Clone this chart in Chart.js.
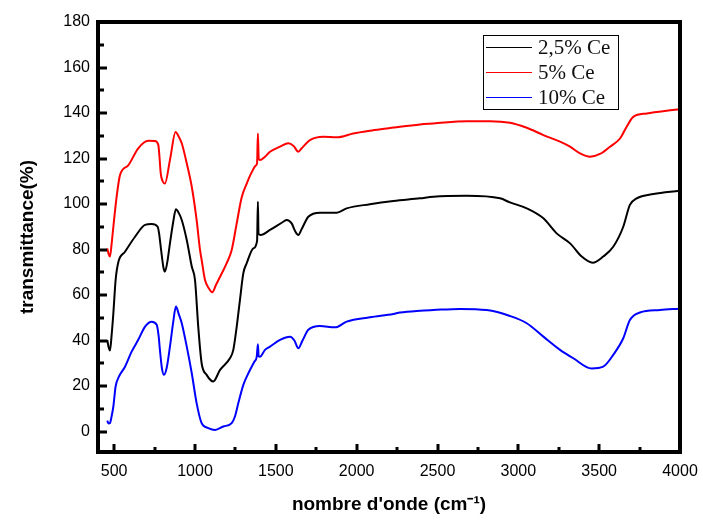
<!DOCTYPE html>
<html>
<head>
<meta charset="utf-8">
<script src="https://cdn.jsdelivr.net/npm/chart.js@4.4.1/dist/chart.umd.min.js"></script>
<style>
  html, body { margin: 0; padding: 0; background: #ffffff; }
  #wrap { width: 703px; height: 520px; }
</style>
</head>
<body>
<div id="wrap"><canvas id="c" width="703" height="520"></canvas></div>
<script>
// ---------- data ----------
const seriesLabels = ["2,5% Ce", "5% Ce", "10% Ce"];
const seriesColors = ["#000000", "#ff0000", "#0000ff"];

const xTicks = [500, 1000, 1500, 2000, 2500, 3000, 3500, 4000];
const xMinorTicks = [750, 1250, 1750, 2250, 2750, 3250, 3750];
const yTicks = [0, 20, 40, 60, 80, 100, 120, 140, 160, 180];
const yMinorTicks = [10, 30, 50, 70, 90, 110, 130, 150, 170];

// 2,5% Ce (black)
const wn25 = [457, 466, 474, 485, 495, 509, 526, 567, 629, 691, 732, 769, 778, 790, 805, 814, 830, 845, 865, 882, 900, 918, 949, 980, 1000, 1020, 1041, 1072, 1113, 1155, 1216, 1237, 1258, 1278, 1299, 1320, 1361, 1384, 1389, 1393, 1406, 1464, 1546, 1567, 1598, 1620, 1639, 1660, 1701, 1773, 1876, 1938, 2082, 2227, 2392, 2474, 2680, 2887, 2948, 3052, 3155, 3237, 3320, 3392, 3460, 3525, 3587, 3649, 3690, 3732, 3835, 3995];
const t25 = [40.3, 37, 35.6, 43, 52, 66.6, 74.5, 79, 85.6, 90.8, 91.2, 90, 87, 80, 72, 70.3, 75, 82.7, 92, 97.7, 96, 93, 84.2, 72.5, 66.6, 46.1, 30, 24.9, 22, 27.1, 32.2, 35.9, 46.1, 57.8, 69.6, 74, 80.5, 83.8, 101, 87, 86.4, 88.6, 92.2, 93, 91.5, 88, 86.4, 89, 94.4, 96.2, 96.2, 98.1, 99.9, 101.3, 102.5, 103.2, 103.6, 102.5, 100.7, 98.1, 93.7, 87.1, 82.7, 76.9, 74.2, 76.9, 81.2, 90, 99.6, 102.5, 104.4, 105.8];

// 5% Ce (red)
const wn5 = [457, 466, 474, 485, 495, 515, 536, 587, 649, 711, 752, 773, 780, 788, 800, 814, 845, 880, 900, 918, 949, 980, 1010, 1031, 1041, 1062, 1085, 1107, 1130, 1155, 1196, 1227, 1258, 1289, 1320, 1351, 1377, 1384, 1389, 1394, 1402, 1433, 1464, 1526, 1577, 1610, 1639, 1660, 1711, 1794, 1876, 1979, 2082, 2186, 2268, 2392, 2474, 2680, 2825, 2948, 3052, 3155, 3258, 3320, 3381, 3443, 3505, 3567, 3629, 3670, 3711, 3794, 3918, 3995];
const t5 = [80.5, 78, 76.9, 83, 90, 103, 112.7, 117, 124.5, 127.8, 127.7, 126, 121, 113.5, 110, 109, 119.3, 131.7, 129.5, 126.7, 117.9, 107.6, 93, 79.8, 75.5, 66.6, 63, 61.2, 64.5, 68, 74, 79.8, 91.5, 103, 109, 114, 117, 118, 131, 120, 119.3, 120.8, 123, 125.2, 126.7, 125.5, 123, 124.5, 128.1, 129.6, 129.3, 131, 132.2, 133.2, 134, 135, 135.4, 136.4, 136.4, 135.7, 133.5, 130.3, 127.4, 125.2, 122.3, 120.8, 122, 125.2, 128.8, 134, 138.3, 139.8, 141, 141.6];

// 10% Ce (blue)
const wn10 = [457, 466, 474, 485, 495, 509, 530, 567, 608, 649, 691, 732, 763, 775, 783, 795, 808, 825, 845, 865, 882, 900, 918, 949, 980, 1010, 1041, 1082, 1124, 1175, 1227, 1247, 1268, 1299, 1330, 1367, 1382, 1389, 1394, 1402, 1433, 1464, 1526, 1588, 1615, 1639, 1665, 1701, 1773, 1866, 1938, 2082, 2227, 2268, 2392, 2474, 2639, 2804, 2948, 3052, 3155, 3258, 3340, 3453, 3525, 3587, 3649, 3690, 3752, 3876, 3995];
const t10 = [4.8, 3.5, 3.7, 7, 11, 19.8, 24.2, 28.5, 35.1, 40.3, 46.1, 48.3, 46.9, 42, 35.9, 28, 24.9, 28, 37.3, 48, 54.9, 51.5, 47.6, 37.3, 25.6, 12.5, 3.7, 1.5, 0.7, 2.2, 3.7, 6.6, 12.5, 20.5, 25.6, 30.7, 32.9, 38.4, 33, 32.9, 35.9, 37.3, 40.3, 41.7, 40, 36.6, 40, 44.7, 46.4, 45.8, 48.3, 50.2, 51.7, 52.3, 53.1, 53.4, 53.9, 53.4, 50.8, 47.6, 41.7, 35.9, 32.2, 27.7, 28.5, 33.7, 41, 49, 52.3, 53.4, 54];

const xMin = 400, xMax = 4000, yMin = -9, yMax = 180;

function pts(xs, ys) { return xs.map((x, i) => ({ x: x, y: ys[i] })); }

// ---------- custom drawing: frame, inward ticks, legend ----------
const framePlugin = {
  id: 'frame',
  afterDatasetsDraw(chart) {
    const ctx = chart.ctx;
    const a = chart.chartArea;
    const xs = chart.scales.x, ys = chart.scales.y;
    ctx.save();
    ctx.strokeStyle = '#000';
    ctx.lineCap = 'butt';
    // inward ticks
    ctx.lineWidth = 3;
    ctx.beginPath();
    yTicks.forEach(v => { const p = Math.round(ys.getPixelForValue(v)); ctx.moveTo(a.left, p); ctx.lineTo(a.left + 9, p); });
    yMinorTicks.forEach(v => { const p = Math.round(ys.getPixelForValue(v)); ctx.moveTo(a.left, p); ctx.lineTo(a.left + 6, p); });
    xTicks.forEach(v => { const p = Math.round(xs.getPixelForValue(v)); ctx.moveTo(p, a.bottom); ctx.lineTo(p, a.bottom - 8); });
    xMinorTicks.forEach(v => { const p = Math.round(xs.getPixelForValue(v)); ctx.moveTo(p, a.bottom); ctx.lineTo(p, a.bottom - 5); });
    ctx.stroke();
    // frame
    ctx.lineWidth = 4;
    ctx.strokeRect(a.left, a.top, a.right - a.left, a.bottom - a.top);
    // legend
    const lx = a.right - 197, ly = a.top + 13, lw = 135, lh = 74;
    ctx.lineWidth = 1;
    ctx.fillStyle = '#fff';
    ctx.fillRect(lx, ly, lw, lh);
    ctx.strokeRect(lx + 0.5, ly + 0.5, lw, lh);
    ctx.font = '21px "Liberation Serif", "Times New Roman", serif';
    ctx.textBaseline = 'middle';
    ctx.textAlign = 'left';
    chart.data.datasets.forEach((ds, i) => {
      const yy = ly + 12 + i * 25;
      ctx.strokeStyle = ds.borderColor;
      ctx.beginPath();
      ctx.moveTo(lx + 3, Math.round(yy) + 0.5);
      ctx.lineTo(lx + 49, Math.round(yy) + 0.5);
      ctx.stroke();
      ctx.fillStyle = '#111';
      ctx.fillText(ds.label, lx + 55, yy + 1);
    });
    ctx.restore();
  }
};

const tickFont = { family: '"Liberation Sans", Arial, sans-serif', size: 16 };
const titleFont = { family: '"Liberation Sans", Arial, sans-serif', size: 19, weight: 'bold' };
const plain = v => String(v);

new Chart(document.getElementById('c'), {
  type: 'line',
  data: {
    datasets: [
      { label: seriesLabels[0], data: pts(wn25, t25), borderColor: seriesColors[0], borderWidth: 2 },
      { label: seriesLabels[1], data: pts(wn5, t5), borderColor: seriesColors[1], borderWidth: 2 },
      { label: seriesLabels[2], data: pts(wn10, t10), borderColor: seriesColors[2], borderWidth: 2 }
    ]
  },
  options: {
    responsive: false,
    devicePixelRatio: 1,
    animation: false,
    layout: { padding: { left: 0, top: 22, right: 23, bottom: 0 } },
    elements: { point: { radius: 0 }, line: { cubicInterpolationMode: 'monotone', fill: false } },
    plugins: { legend: { display: false }, tooltip: { enabled: false } },
    scales: {
      x: {
        type: 'linear', min: xMin, max: xMax,
        afterBuildTicks: s => { s.ticks = xTicks.map(v => ({ value: v })); },
        afterFit: s => { s.height = 68; },
        grid: { display: false, drawTicks: true, tickLength: 8 },
        border: { display: false },
        ticks: { font: tickFont, color: '#000', padding: 2, maxRotation: 0, autoSkip: false, callback: plain },
        title: { display: true, text: "nombre d'onde (cm\u207B\u00B9)", font: titleFont, color: '#000', padding: { top: 0, bottom: 4 } }
      },
      y: {
        type: 'linear', min: yMin, max: yMax,
        afterBuildTicks: s => { s.ticks = yTicks.map(v => ({ value: v })); },
        afterFit: s => { s.width = 98; },
        grid: { display: false, drawTicks: false },
        border: { display: false },
        ticks: { font: tickFont, color: '#000', padding: 8, autoSkip: false, callback: plain },
        title: { display: true, text: 'transmittance(%)', font: titleFont, color: '#000', padding: { top: 16, bottom: 0 } }
      }
    }
  },
  plugins: [framePlugin]
});
</script>
</body>
</html>
